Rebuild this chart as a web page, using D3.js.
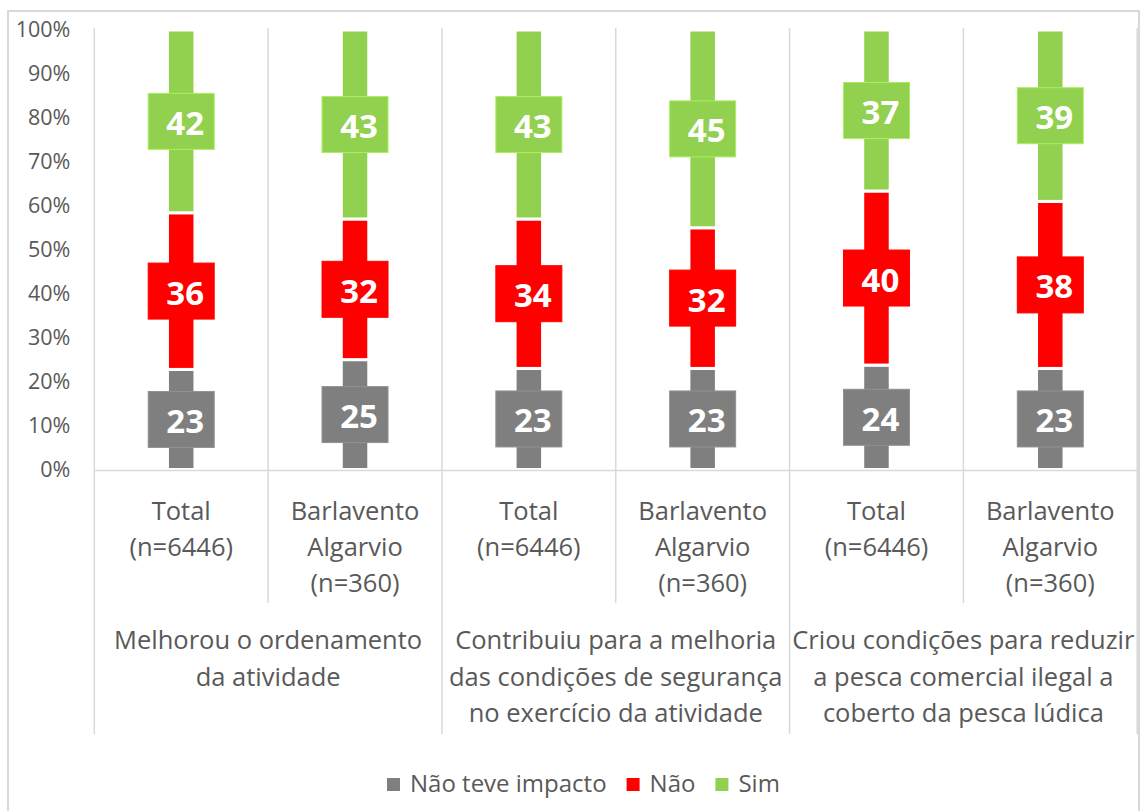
<!DOCTYPE html>
<html>
<head>
<meta charset="utf-8">
<script src="https://cdn.jsdelivr.net/npm/d3@7/dist/d3.min.js"></script>
<style>
  html, body { margin: 0; padding: 0; background: #fff; }
  svg { display: block; font-family: "Open Sans", "DejaVu Sans", sans-serif; }
</style>
</head>
<body>
<svg id="chart" width="1142" height="811"></svg>
<script>
// Column labels (each entry split into lines)
const columns = [
  ["Total", "(n=6446)"],
  ["Barlavento", "Algarvio", "(n=360)"],
  ["Total", "(n=6446)"],
  ["Barlavento", "Algarvio", "(n=360)"],
  ["Total", "(n=6446)"],
  ["Barlavento", "Algarvio", "(n=360)"]
];

// Group labels, two columns per group
const groups = [
  ["Melhorou o ordenamento", "da atividade"],
  ["Contribuiu para a melhoria", "das condições de segurança", "no exercício da atividade"],
  ["Criou condições para reduzir", "a pesca comercial ilegal a", "coberto da pesca lúdica"]
];

// Series values (%)
const seriesNames = ["Não teve impacto", "Não", "Sim"];
const naoTeveImpacto = [23, 25, 23, 23, 24, 23];
const nao = [36, 32, 34, 32, 40, 38];
const sim = [42, 43, 43, 45, 37, 39];

const yTicks = [0, 0.1, 0.2, 0.3, 0.4, 0.5, 0.6, 0.7, 0.8, 0.9, 1];

const colors = { "Não teve impacto": "#7f7f7f", "Não": "#ff0000", "Sim": "#92d050" };

const rows = columns.map((c, i) => ({
  idx: i,
  "Não teve impacto": naoTeveImpacto[i],
  "Não": nao[i],
  "Sim": sim[i]
}));

const svg = d3.select("#chart");
const textColor = "#595959";
const gridColor = "#d9d9d9";

// Outer chart frame
svg.append("rect")
  .attr("x", 8).attr("y", 11)
  .attr("width", 1131).attr("height", 812)
  .attr("fill", "#fff")
  .attr("stroke", gridColor).attr("stroke-width", 2);

const plot = { left: 94.3, right: 1137.2, top: 30, bottom: 469.5 };

const x = d3.scaleBand()
  .domain(rows.map(d => d.idx))
  .range([plot.left, plot.right])
  .padding(0);

const y = d3.scaleLinear().domain([0, 1]).range([plot.bottom, plot.top]);

// Vertical separators: long ones between groups, short ones inside groups
const bounds = d3.range(columns.length + 1);
svg.append("g").selectAll("line")
  .data(bounds)
  .join("line")
  .attr("x1", i => plot.left + i * x.bandwidth())
  .attr("x2", i => plot.left + i * x.bandwidth())
  .attr("y1", plot.top - 2)
  .attr("y2", i => (i % 2 === 0 ? 734 : 603))
  .attr("stroke", gridColor)
  .attr("stroke-width", 1.5);

// Y axis
const yAxis = d3.axisLeft(y)
  .tickValues(yTicks)
  .tickFormat(d3.format(".0%"))
  .tickSize(0)
  .tickPadding(24);

const yG = svg.append("g")
  .attr("transform", `translate(${plot.left},0)`)
  .call(yAxis);
yG.select(".domain").remove();
yG.selectAll("text")
  .attr("fill", textColor)
  .style("font-size", "21.5px")
  .style("font-family", "'Open Sans', sans-serif");

// Stacked, normalised to 100%
const stack = d3.stack().keys(seriesNames).offset(d3.stackOffsetExpand);
const stacked = stack(rows);

const barW = 27.5;

const layers = svg.append("g").selectAll("g")
  .data(stacked)
  .join("g")
  .attr("fill", d => colors[d.key]);

layers.selectAll("rect")
  .data(d => d)
  .join("rect")
  .attr("x", d => x(d.data.idx) + x.bandwidth() / 2 - barW / 2)
  .attr("width", barW)
  .attr("y", d => y(d[1]))
  .attr("height", d => y(d[0]) - y(d[1]))
  .attr("stroke", "#fff")
  .attr("stroke-width", 3);

// Baseline axis line
svg.append("line")
  .attr("x1", plot.left).attr("x2", plot.right)
  .attr("y1", 470.5).attr("y2", 470.5)
  .attr("stroke", gridColor).attr("stroke-width", 1.5);

// Value labels in filled boxes
const boxW = 66, boxH = 56;
const labels = svg.append("g").selectAll("g")
  .data(stacked.flatMap(layer => layer.map(d => ({ key: layer.key, d }))))
  .join("g")
  .attr("transform", o => {
    const cx = x(o.d.data.idx) + x.bandwidth() / 2;
    const cy = (y(o.d[0]) + y(o.d[1])) / 2;
    return `translate(${cx},${cy})`;
  });

labels.append("rect")
  .attr("x", -boxW / 2).attr("y", -boxH / 2)
  .attr("width", boxW).attr("height", boxH)
  .attr("fill", o => colors[o.key])
  .attr("stroke", o => d3.color(colors[o.key]).brighter(0.4))
  .attr("stroke-width", 1);

labels.append("text")
  .attr("x", 4)
  .attr("y", 1)
  .attr("text-anchor", "middle")
  .attr("dominant-baseline", "central")
  .attr("fill", "#fff")
  .style("font-size", "33px")
  .style("font-weight", "bold")
  .text(o => o.d.data[o.key]);

// Column category labels
const catG = svg.append("g").selectAll("text")
  .data(columns)
  .join("text")
  .attr("text-anchor", "middle")
  .attr("fill", textColor)
  .style("font-size", "25.5px");
catG.each(function(lines, i) {
  const cx = x(i) + x.bandwidth() / 2;
  d3.select(this).selectAll("tspan")
    .data(lines)
    .join("tspan")
    .attr("x", cx)
    .attr("y", (l, k) => 520 + k * 36)
    .text(l => l);
});

// Group labels
const grpG = svg.append("g").selectAll("text")
  .data(groups)
  .join("text")
  .attr("text-anchor", "middle")
  .attr("fill", textColor)
  .style("font-size", "25.5px");
grpG.each(function(lines, g) {
  const cx = plot.left + (g * 2 + 1) * x.bandwidth();
  d3.select(this).selectAll("tspan")
    .data(lines)
    .join("tspan")
    .attr("x", cx)
    .attr("y", (l, k) => 649 + k * 36.5)
    .text(l => l);
});

// Legend
const legend = svg.append("g").attr("transform", "translate(387,0)");
let lx = 0;
seriesNames.forEach(name => {
  const item = legend.append("g").attr("transform", `translate(${lx},0)`);
  item.append("rect")
    .attr("x", 0).attr("y", 778)
    .attr("width", 13).attr("height", 13)
    .attr("fill", colors[name]);
  const t = item.append("text")
    .attr("x", 23).attr("y", 792)
    .attr("fill", textColor)
    .style("font-size", "24px")
    .text(name);
  lx += 23 + t.node().getComputedTextLength() + 20;
});
</script>
</body>
</html>
